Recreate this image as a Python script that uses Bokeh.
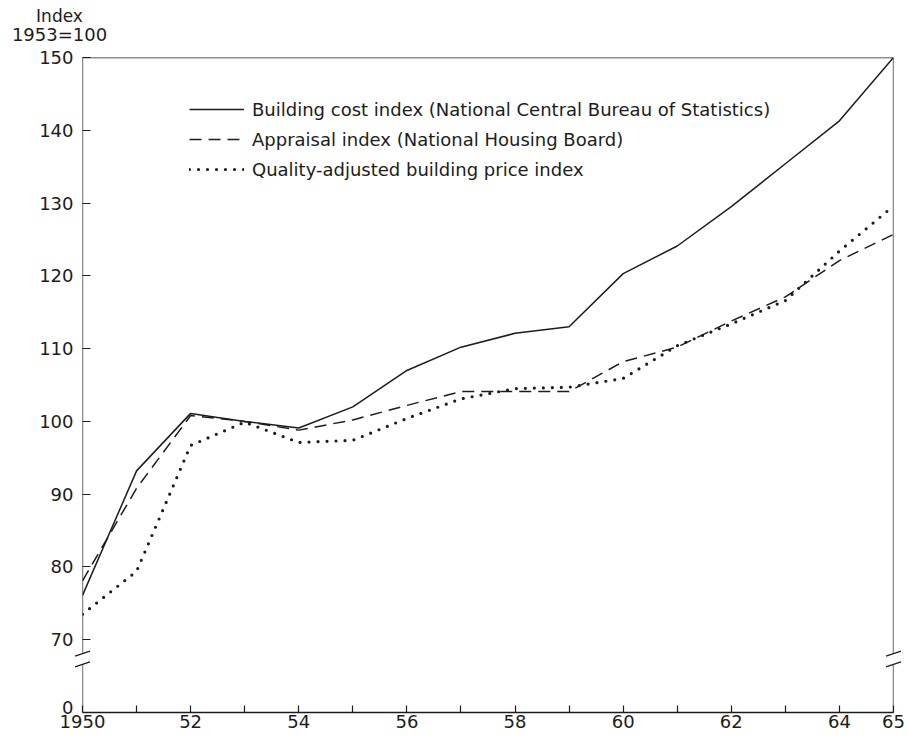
from bokeh.plotting import figure
from bokeh.models import FixedTicker, Legend, LegendItem, Range1d, LinearAxis
from bokeh.core.properties import value
from bokeh.embed import file_html
from bokeh.resources import INLINE

# ---------------- data ----------------
years = list(range(1950, 1966))
building_cost = [76.1, 93.2, 101.1, 100.0, 99.1, 102.0, 107.0, 110.2, 112.1, 113.0,
                 120.3, 124.1, 129.5, 135.4, 141.3, 150.0]
appraisal = [78.1, 90.8, 100.8, 100.0, 98.8, 100.2, 102.2, 104.1, 104.1, 104.1,
             108.2, 110.2, 113.8, 117.1, 122.1, 125.7]
quality_adjusted = [73.5, 79.4, 96.7, 99.9, 97.1, 97.4, 100.4, 103.1, 104.5, 104.7,
                    105.9, 110.4, 113.4, 116.6, 123.4, 129.6]

series_names = [
    "Building cost index (National Central Bureau of Statistics)",
    "Appraisal index (National Housing Board)",
    "Quality-adjusted building price index",
]

x_tick_labels = ["1950", "", "52", "", "54", "", "56", "", "58", "", "60", "", "62", "", "64", "65"]
y_ticks = [70, 80, 90, 100, 110, 120, 130, 140, 150]
y_tick_labels = ["70", "80", "90", "100", "110", "120", "130", "140", "150"]
y_zero_position = 60      # broken axis: the "0" level is drawn here
y_zero_label = "0"
y_break = [66.6, 68.1]    # where the axis is interrupted
title_lines = ["Index", "1953=100"]

# ---------------- figure ----------------
INK = "#1c1c1c"
FONT = "DejaVu Sans"
W, H = 906, 735
BL, BR, BT, BB = 82, 13, 57, 23
frame_w = W - BL - BR
frame_h = H - BT - BB

p = figure(width=W, height=H,
           x_range=Range1d(years[0], years[-1]),
           y_range=Range1d(y_zero_position, 150),
           min_border_left=BL, min_border_right=BR,
           min_border_top=BT, min_border_bottom=BB,
           output_backend="svg", toolbar_location=None)

p.outline_line_color = None
p.xgrid.visible = False
p.ygrid.visible = False
p.background_fill_color = "white"
p.border_fill_color = "white"

r1 = p.line(years, building_cost, line_color=INK, line_width=1.5)
r2 = p.line(years, appraisal, line_color=INK, line_width=1.5, line_dash="12 7")
r3 = p.line(years, quality_adjusted, line_color=INK, line_width=3.2,
            line_dash="0 9", line_cap="round")

# x axis
xa = p.xaxis[0]
xa.ticker = FixedTicker(ticks=years)
xa.major_label_overrides = {y: lab for y, lab in zip(years, x_tick_labels)}
xa.major_tick_in = 7
xa.major_tick_out = 0
xa.minor_tick_line_color = None
xa.axis_line_color = INK
xa.axis_line_width = 1.3
xa.major_tick_line_color = INK
xa.major_tick_line_width = 1.2
xa.major_label_standoff = 2
xa.major_label_text_font = FONT
xa.major_label_text_font_size = "18px"
xa.major_label_text_color = INK

# y axis
ya = p.yaxis[0]
ya.ticker = FixedTicker(ticks=y_ticks)
ya.major_label_overrides = {t: lab for t, lab in zip(y_ticks, y_tick_labels)}
ya.major_tick_in = 8
ya.major_tick_out = 0
ya.minor_tick_line_color = None
ya.axis_line_color = None
ya.major_tick_line_color = INK
ya.major_tick_line_width = 1.2
ya.major_label_standoff = 9
ya.major_label_text_font = FONT
ya.major_label_text_font_size = "18px"
ya.major_label_text_color = INK

x0, x1 = years[0], years[-1]
ybot, ytop = y_zero_position, 150

# "0" label of the broken axis (text glyph on the overlay level, not clipped)
p.text(x=[x0], y=[y_zero_position], text=[y_zero_label], x_offset=-9, y_offset=-5,
       text_align="right", text_baseline="middle", text_font=value(FONT),
       text_font_size="18px", text_color=INK, level="overlay")

# frame borders (interrupted at the axis break) drawn as bare axis lines
def border(side, loc, bounds):
    ax = LinearAxis(fixed_location=loc, bounds=bounds, ticker=FixedTicker(ticks=[]),
                    major_tick_in=0, major_tick_out=0, minor_tick_in=0, minor_tick_out=0,
                    major_label_standoff=0, major_label_text_font_size="0px",
                    axis_line_color=INK, axis_line_width=1.3)
    p.add_layout(ax, side)

for side, bx in (("left", x0), ("right", x1)):
    border(side, bx, (ybot, y_break[0]))
    border(side, bx, (y_break[1], ytop))
border("above", ytop, (x0, x1))

# break slashes
dx = 7.5 * (x1 - x0) / frame_w
dy = 2.5 * (ytop - ybot) / frame_h
sx0, sy0, sx1, sy1 = [], [], [], []
for bx in (x0, x1):
    for by in y_break:
        sx0.append(bx - dx); sy0.append(by - dy)
        sx1.append(bx + dx); sy1.append(by + dy)
p.segment(sx0, sy0, sx1, sy1, line_color=INK, line_width=1.3, level="overlay")

# axis title
p.text(x=[x0], y=[ytop], text=[title_lines[0]], x_offset=-23, y_offset=-41.5,
       text_align="center", text_baseline="middle", text_font=value(FONT),
       text_font_size="17px", text_color=INK, level="overlay")
p.text(x=[x0], y=[ytop], text=[title_lines[1]], x_offset=-23, y_offset=-23.5,
       text_align="center", text_baseline="middle", text_font=value(FONT),
       text_font_size="18px", text_color=INK, level="overlay")

# legend
leg_top = 44.7
leg_h = 3 * 20 + 2 * 9
legend = Legend(items=[LegendItem(label=series_names[0], renderers=[r1]),
                       LegendItem(label=series_names[1], renderers=[r2]),
                       LegendItem(label=series_names[2], renderers=[r3])],
                location=(107, frame_h - leg_top - leg_h),
                glyph_width=55, glyph_height=20, label_height=20,
                label_standoff=8, spacing=9, padding=0, margin=0,
                border_line_color=None, background_fill_alpha=0,
                label_text_font=FONT, label_text_font_size="18px",
                label_text_color=INK, level="overlay")
p.add_layout(legend)

open("out.html", "w").write(file_html(p, INLINE))
